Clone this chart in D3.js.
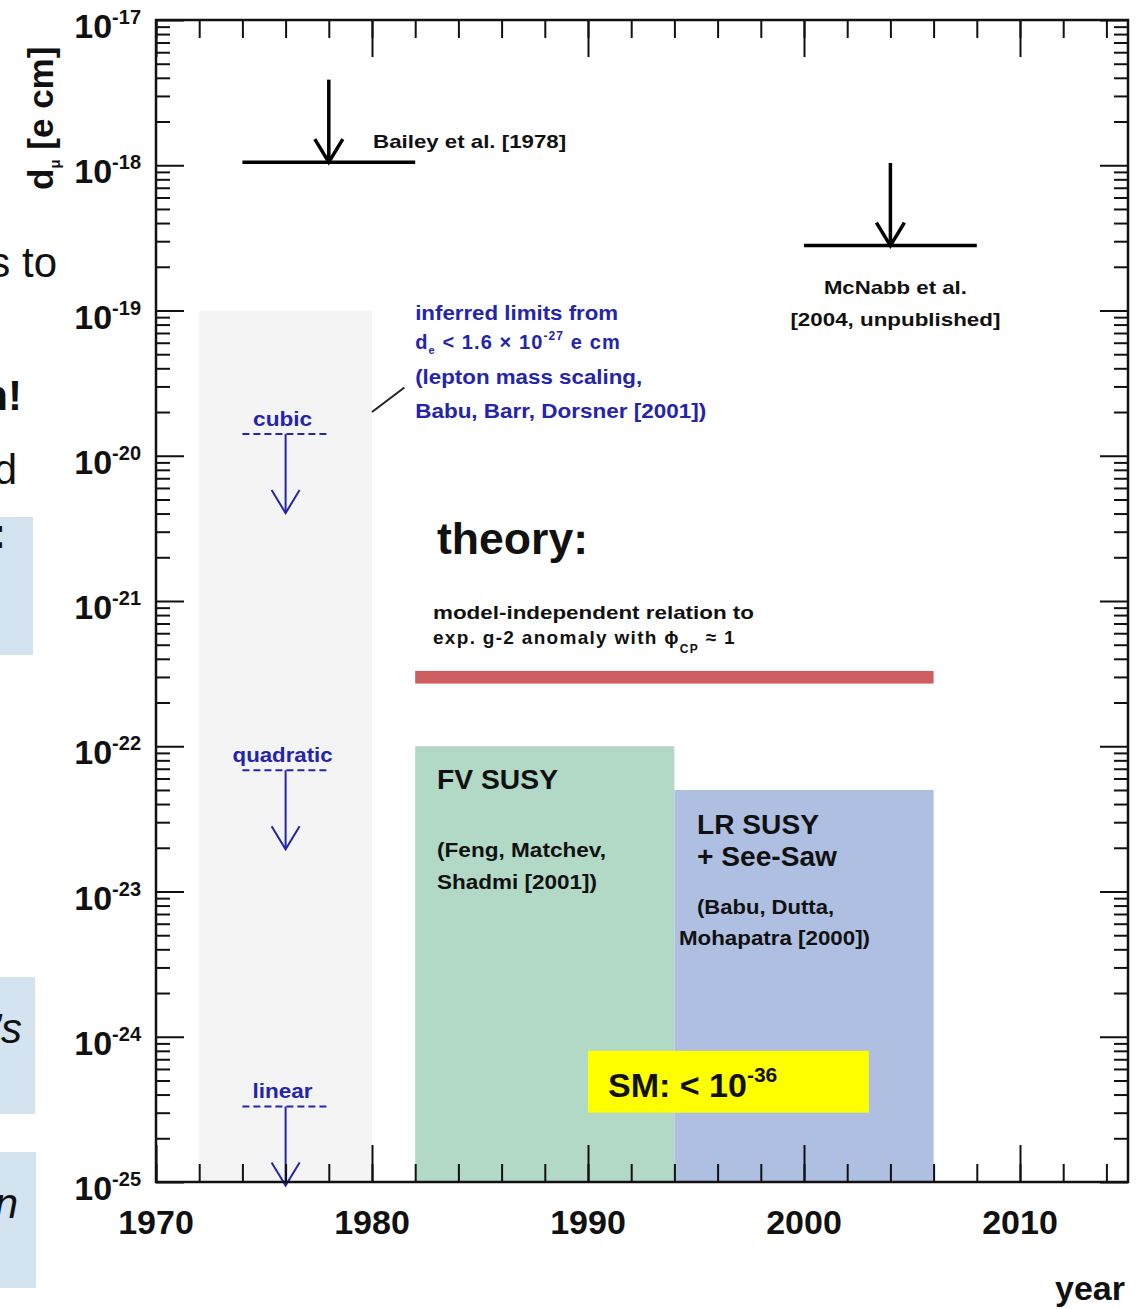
<!DOCTYPE html>
<html>
<head>
<meta charset="utf-8">
<title>muon EDM limits vs year</title>
<script src="https://cdn.jsdelivr.net/npm/d3@7"></script>
<style>
  body { margin: 0; background: #fff; }
  svg { display: block; font-family: "Liberation Sans", Arial, sans-serif; }
</style>
</head>
<body>
<div id="chart"></div>
<script>
// ---- data ----
const yearRange = [1970, 2015]
const edmRange = [1e-25, 1e-17]
const yearTicks = [1970, 1980, 1990, 2000, 2010]
const yearMinor = d3.range(1970, 2015, 2)
const decadeExps = d3.range(-25, -16)

// measured upper limits
const expLabels = [["Bailey et al. [1978]"], ["McNabb et al.", "[2004, unpublished]"]]
const expYears = [1978, 2004]
const expLimits = [1.05e-18, 2.8e-19]
const expSpans = [[1974, 1982], [2000, 2008]]

// limits inferred from d_e via lepton mass scaling
const scalingNames = ["cubic", "quadratic", "linear"]
const scalingLimits = [1.41e-20, 6.84e-23, 3.31e-25]
const scalingYear = 1976
const scalingSpan = [1974, 1978]
const inferredYears = [1972, 1980]
const inferredTop = 1e-19

// theory predictions
const g2Years = [1982, 2006]
const g2Band = [2.7e-22, 3.3e-22]
const susyNames = ["FV SUSY", "LR SUSY"]
const susyYears = [[1982, 1994], [1994, 2006]]
const susyTops = [1e-22, 5e-23]
const smYears = [1990, 2003]
const smBand = [3e-25, 8e-25]

// ---- layout ----
const W = 1137, H = 1309
const x = d3.scaleLinear().domain(yearRange).range([156, 1128])
const y = d3.scaleLog().domain(edmRange).range([1182, 20])
const [x0, x1] = x.range(), [y0, y1] = y.range()

const svg = d3.select("#chart").append("svg")
  .attr("width", W).attr("height", H)

// stretch a text to the width seen in the original
const fit = (sel, w) => sel.attr("textLength", w).attr("lengthAdjust", "spacingAndGlyphs")

// slide fragments on the left edge
const slide = svg.append("g")
slide.selectAll("rect")
  .data([[517, 655, 33], [977, 1114, 35], [1152, 1288, 36]])
  .join("rect")
  .attr("x", 0).attr("y", d => d[0])
  .attr("width", d => d[2]).attr("height", d => d[1] - d[0])
  .attr("fill", "#d4e3f0")
const frag = (t, xe, yb, w, st) => slide.append("text")
  .attr("x", xe).attr("y", yb).attr("text-anchor", "end")
  .attr("font-size", 42).attr("font-weight", w).attr("font-style", st)
  .attr("fill", "#111").text(t)
frag("s to", 57, 277, "normal", "normal")
frag("n!", 22, 410, "bold", "normal")
frag("d", 17, 484, "normal", "normal")
frag(":", 6, 548, "bold", "normal")
frag("’s", 22, 1043, "normal", "italic")
frag("on", 18, 1218, "normal", "italic")

const plot = svg.append("g")

// inferred-limit band
plot.append("rect")
  .attr("x", x(inferredYears[0])).attr("width", x(inferredYears[1]) - x(inferredYears[0]))
  .attr("y", y(inferredTop)).attr("height", y0 - y(inferredTop))
  .attr("fill", "#f4f4f4")

// SUSY bands
const susyFill = ["#b2d8c6", "#aebfe2"]
plot.selectAll(".susy")
  .data(susyNames)
  .join("rect")
  .attr("x", (d, i) => x(susyYears[i][0]))
  .attr("width", (d, i) => x(susyYears[i][1]) - x(susyYears[i][0]))
  .attr("y", (d, i) => y(susyTops[i]))
  .attr("height", (d, i) => y0 - y(susyTops[i]))
  .attr("fill", (d, i) => susyFill[i])

// g-2 band
plot.append("rect")
  .attr("x", x(g2Years[0])).attr("width", x(g2Years[1]) - x(g2Years[0]))
  .attr("y", y(g2Band[1])).attr("height", y(g2Band[0]) - y(g2Band[1]))
  .attr("fill", "#cf5e60")

// SM box
plot.append("rect")
  .attr("x", x(smYears[0])).attr("width", x(smYears[1]) - x(smYears[0]))
  .attr("y", y(smBand[1])).attr("height", y(smBand[0]) - y(smBand[1]))
  .attr("fill", "#ffff00")

// arrows
function arrow(g, xp, yTop, yTip, color, sw) {
  g.append("line").attr("x1", xp).attr("x2", xp).attr("y1", yTop).attr("y2", yTip)
    .attr("stroke", color).attr("stroke-width", sw)
  g.append("path")
    .attr("d", `M${xp - 14},${yTip - 23}L${xp},${yTip}L${xp + 14},${yTip - 23}`)
    .attr("fill", "none").attr("stroke", color).attr("stroke-width", sw)
}

// experimental limits
expYears.forEach((yr, i) => {
  const ly = y(expLimits[i])
  plot.append("line")
    .attr("x1", x(expSpans[i][0])).attr("x2", x(expSpans[i][1]))
    .attr("y1", ly).attr("y2", ly)
    .attr("stroke", "#000").attr("stroke-width", 3.5)
  arrow(plot, x(yr), y(expLimits[i] * 3.7), ly, "#000", 3.5)
})

// scaling limits
const blue = "#2424ac"
const scaleW = [59, 100, 60]
scalingNames.forEach((nm, i) => {
  const ly = y(scalingLimits[i])
  plot.append("line")
    .attr("x1", x(scalingSpan[0])).attr("x2", x(scalingSpan[1]))
    .attr("y1", ly).attr("y2", ly)
    .attr("stroke", blue).attr("stroke-width", 2).attr("stroke-dasharray", "7,4")
  arrow(plot, x(scalingYear), ly, y(scalingLimits[i] / 3.5), blue, 2)
  plot.append("text")
    .attr("x", x(scalingYear) - 3).attr("y", ly - 8)
    .attr("text-anchor", "middle").attr("font-size", 20).attr("font-weight", "bold")
    .attr("fill", blue).text(nm).call(fit, scaleW[i])
})

// ---- axes ----
const tickStyle = g => {
  g.select(".domain").remove()
  g.selectAll("line").attr("stroke", "#111").attr("stroke-width", 2)
}
const axisG = svg.append("g")
axisG.append("g").attr("transform", `translate(0,${y0})`)
  .call(d3.axisTop(x).tickValues(yearMinor).tickSize(18).tickFormat("")).call(tickStyle)
axisG.append("g").attr("transform", `translate(0,${y0})`)
  .call(d3.axisTop(x).tickValues(yearTicks).tickSize(37).tickFormat("")).call(tickStyle)
axisG.append("g").attr("transform", `translate(0,${y1})`)
  .call(d3.axisBottom(x).tickValues(yearMinor).tickSize(18).tickFormat("")).call(tickStyle)
axisG.append("g").attr("transform", `translate(0,${y1})`)
  .call(d3.axisBottom(x).tickValues(yearTicks).tickSize(37).tickFormat("")).call(tickStyle)

const yMinor = []
decadeExps.slice(0, -1).forEach(e => d3.range(2, 10).forEach(k => yMinor.push(k * Math.pow(10, e))))
const yMajor = decadeExps.map(e => Math.pow(10, e))
axisG.append("g").attr("transform", `translate(${x0},0)`)
  .call(d3.axisRight(y).tickValues(yMinor).tickSize(14).tickFormat("")).call(tickStyle)
axisG.append("g").attr("transform", `translate(${x0},0)`)
  .call(d3.axisRight(y).tickValues(yMajor).tickSize(28).tickFormat("")).call(tickStyle)
axisG.append("g").attr("transform", `translate(${x1},0)`)
  .call(d3.axisLeft(y).tickValues(yMinor).tickSize(14).tickFormat("")).call(tickStyle)
axisG.append("g").attr("transform", `translate(${x1},0)`)
  .call(d3.axisLeft(y).tickValues(yMajor).tickSize(28).tickFormat("")).call(tickStyle)

axisG.append("rect")
  .attr("x", x0).attr("y", y1).attr("width", x1 - x0).attr("height", y0 - y1)
  .attr("fill", "none").attr("stroke", "#111").attr("stroke-width", 2.5)

// tick labels
axisG.selectAll(".xl").data(yearTicks).join("text")
  .attr("x", d => x(d)).attr("y", 1234)
  .attr("text-anchor", "middle").attr("font-size", 34).attr("font-weight", "bold")
  .attr("fill", "#111").text(d => d)

const yl = axisG.selectAll(".yl").data(decadeExps).join("text")
  .attr("x", 141).attr("y", d => y(Math.pow(10, d)) + 18)
  .attr("text-anchor", "end").attr("font-weight", "bold").attr("fill", "#111")
yl.append("tspan").attr("font-size", 34).text("10")
yl.append("tspan").attr("font-size", 20).attr("dy", -14).text(d => d)

axisG.append("text")
  .attr("x", 1125).attr("y", 1300).attr("text-anchor", "end")
  .attr("font-size", 34).attr("font-weight", "bold").attr("fill", "#111").text("year")

const yt = axisG.append("text")
  .attr("transform", "translate(53,190) rotate(-90)")
  .attr("font-size", 35).attr("font-weight", "bold").attr("fill", "#111")
yt.append("tspan").text("d")
yt.append("tspan").attr("font-size", 15).attr("dy", 7).text("μ")
yt.append("tspan").attr("dy", -7).text(" [e cm]")

// ---- annotations ----
const ann = svg.append("g").attr("font-weight", "bold").attr("fill", "#111")
function lines(xp, yb, arr, size, step, widths, color) {
  arr.forEach((t, i) => ann.append("text")
    .attr("x", xp).attr("y", yb + i * step)
    .attr("font-size", size).attr("fill", color || "#111").text(t)
    .call(fit, widths[i]))
}
lines(x(1980.05), 148, expLabels[0], 19, 0, [193])
const mcW = [143, 210]
expLabels[1].forEach((t, i) => ann.append("text")
  .attr("x", x(expYears[1]) + 5).attr("y", 294 + i * 32)
  .attr("text-anchor", "middle").attr("font-size", 19).text(t).call(fit, mcW[i]))

// inferred-limit note
lines(x(1982), 320, ["inferred limits from"], 20, 0, [203], blue)
const de = ann.append("text").attr("x", x(1982)).attr("y", 349).attr("font-size", 20)
  .attr("fill", blue).attr("letter-spacing", 1.1)
de.append("tspan").text("d")
de.append("tspan").attr("font-size", 11).attr("dy", 5).text("e")
de.append("tspan").attr("dy", -5).text(" < 1.6 × 10")
de.append("tspan").attr("font-size", 12).attr("dy", -9).text("-27")
de.append("tspan").attr("dy", 9).text(" e cm")
lines(x(1982), 384, ["(lepton mass scaling,", "Babu, Barr, Dorsner [2001])"], 20, 34, [227, 291], blue)
ann.append("line")
  .attr("x1", x(1980)).attr("y1", y(2e-20)).attr("x2", x(1981.5)).attr("y2", y(2.95e-20))
  .attr("stroke", "#222").attr("stroke-width", 2)

// theory
ann.append("text").attr("x", 437).attr("y", 554).attr("font-size", 44).text("theory:").call(fit, 151)
lines(433, 619, ["model-independent relation to"], 19, 0, [321])
const g2 = ann.append("text").attr("x", 433).attr("y", 644).attr("font-size", 19)
  .attr("letter-spacing", 1.3)
g2.append("tspan").text("exp. g-2 anomaly with ϕ")
g2.append("tspan").attr("font-size", 12).attr("dy", 9).text("CP")
g2.append("tspan").attr("dy", -9).text(" ≈ 1")

lines(437, 789, ["FV SUSY"], 27, 0, [121])
lines(437, 857, ["(Feng, Matchev,", "Shadmi [2001])"], 20, 32, [169, 160])
lines(697, 834, ["LR SUSY", "+ See-Saw"], 27, 32, [122, 140])
lines(697, 914, ["(Babu, Dutta,"], 20, 0, [137])
lines(679, 945, ["Mohapatra [2000])"], 20, 0, [191])

const sm = ann.append("text").attr("x", 608).attr("y", 1097).attr("font-size", 34)
sm.append("tspan").text("SM: < 10")
sm.append("tspan").attr("font-size", 21).attr("dy", -15).text("-36")
</script>
</body>
</html>
